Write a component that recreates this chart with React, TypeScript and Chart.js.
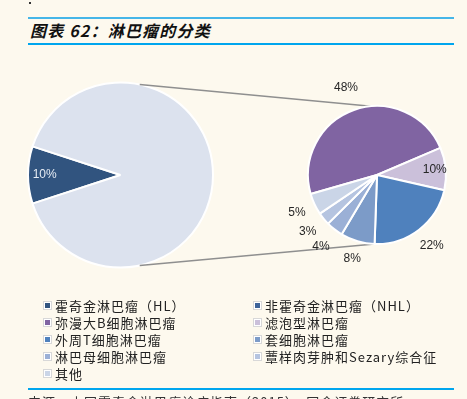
import React, { useEffect, useRef } from "react";
import { Chart, registerables } from "chart.js";

Chart.register(...registerables);

// ---- data ----
const overviewLabels = ["霍奇金淋巴瘤（HL）", "非霍奇金淋巴瘤（NHL）"];
const overviewValues = [10, 90];
const overviewColors = ["#31547f", "#dce2ee"];
const overviewShowLabel = [true, false];

const nhlLabels = [
  "弥漫大B细胞淋巴瘤",
  "滤泡型淋巴瘤",
  "外周T细胞淋巴瘤",
  "套细胞淋巴瘤",
  "淋巴母细胞淋巴瘤",
  "蕈样肉芽肿和Sezary综合征",
  "其他",
];
const nhlValues = [48, 10, 22, 8, 4, 3, 5];
const nhlColors = ["#8064a2", "#cbc0da", "#4f81bd", "#7c9bc8", "#9bb0d6", "#b5c4e0", "#cad5e7"];
const nhlLabelRadius = [1.34, 0.84, 1.3, 1.27, 1.32, 1.3, 1.28];

const legendLabels = [...overviewLabels, ...nhlLabels];
const legendColors = ["#31547f", "#3d6399", ...nhlColors];

const titleText = "图表 62：淋巴瘤的分类";
const sourceText = "来源：中国霍奇金淋巴瘤诊疗指南（2015），国金证券研究所";

const W = 467;
const CH = 300;

function makeLabelPlugin(factors: number[], show: boolean[], color: string) {
  return {
    id: "pctLabels",
    afterDatasetsDraw(chart: any) {
      const ctx = chart.ctx;
      const meta = chart.getDatasetMeta(0);
      const values = chart.data.datasets[0].data as number[];
      const total = values.reduce((a, b) => a + b, 0);
      ctx.save();
      ctx.font = '12px "Liberation Sans", Arial, sans-serif';
      ctx.fillStyle = color;
      ctx.textAlign = "center";
      ctx.textBaseline = "middle";
      meta.data.forEach((arc: any, i: number) => {
        if (!show[i]) return;
        const p = arc.getProps(["x", "y", "startAngle", "endAngle", "outerRadius"], true);
        const mid = (p.startAngle + p.endAngle) / 2;
        const r = p.outerRadius * factors[i];
        const pct = Math.round((values[i] / total) * 100) + "%";
        ctx.fillText(pct, p.x + Math.cos(mid) * r, p.y + Math.sin(mid) * r);
      });
      ctx.restore();
    },
  };
}

export default function App() {
  const leftRef = useRef<HTMLCanvasElement>(null);
  const rightRef = useRef<HTMLCanvasElement>(null);

  useEffect(() => {
    const left = new Chart(leftRef.current!, {
      type: "pie",
      data: {
        labels: overviewLabels,
        datasets: [
          {
            data: overviewValues,
            backgroundColor: overviewColors,
            borderColor: "#ffffff",
            borderWidth: 2,
          },
        ],
      },
      options: {
        responsive: false,
        animation: false,
        devicePixelRatio: 1,
        rotation: 252,
        layout: { padding: { left: 27, right: 253, top: 81, bottom: 31 } },
        plugins: { legend: { display: false }, tooltip: { enabled: false } },
      },
      plugins: [makeLabelPlugin([0.82, 1], overviewShowLabel, "#e6ecf4")],
    });

    const connector = {
      id: "connector",
      beforeDatasetsDraw(chart: any) {
        const la = left.getDatasetMeta(0).data[0] as any;
        const ra = chart.getDatasetMeta(0).data[0] as any;
        if (!la || !ra) return;
        const lp = la.getProps(["x", "y", "outerRadius"], true);
        const rp = ra.getProps(["x", "y", "outerRadius"], true);
        const ctx = chart.ctx;
        const la1 = ((-78) * Math.PI) / 180;
        const la2 = ((78) * Math.PI) / 180;
        const ra1 = ((-95) * Math.PI) / 180;
        const ra2 = ((92) * Math.PI) / 180;
        ctx.save();
        ctx.lineWidth = 1.4;
        ctx.strokeStyle = "#8f8f8f";
        ctx.beginPath();
        ctx.moveTo(lp.x + Math.cos(la1) * lp.outerRadius, lp.y + Math.sin(la1) * lp.outerRadius);
        ctx.lineTo(rp.x + Math.cos(ra1) * rp.outerRadius, rp.y + Math.sin(ra1) * rp.outerRadius);
        ctx.moveTo(lp.x + Math.cos(la2) * lp.outerRadius, lp.y + Math.sin(la2) * lp.outerRadius);
        ctx.lineTo(rp.x + Math.cos(ra2) * rp.outerRadius, rp.y + Math.sin(ra2) * rp.outerRadius);
        ctx.stroke();
        ctx.restore();
      },
    };

    const right = new Chart(rightRef.current!, {
      type: "pie",
      data: {
        labels: nhlLabels,
        datasets: [
          {
            data: nhlValues,
            backgroundColor: nhlColors,
            borderColor: "#ffffff",
            borderWidth: 2,
          },
        ],
      },
      options: {
        responsive: false,
        animation: false,
        devicePixelRatio: 1,
        rotation: 254,
        layout: { padding: { left: 307, right: 20, top: 105, bottom: 55 } },
        plugins: { legend: { display: false }, tooltip: { enabled: false } },
      },
      plugins: [connector, makeLabelPlugin(nhlLabelRadius, nhlValues.map(() => true), "#262626")],
    });

    return () => {
      right.destroy();
      left.destroy();
    };
  }, []);

  const rows: number[] = [];
  for (let i = 0; i < legendLabels.length; i += 2) rows.push(i);

  return (
    <div
      style={{
        position: "fixed",
        left: 0,
        top: 0,
        width: W,
        height: 399,
        background: "#fdf9ee",
        overflow: "hidden",
        fontFamily: '"Noto Sans CJK SC", sans-serif',
      }}
    >
      <div style={{ position: "absolute", left: 29, top: 2, width: 2, height: 2, background: "#333" }} />
      <div
        style={{
          position: "absolute",
          left: 28,
          top: 17,
          width: 426,
          height: 24,
          borderTop: "2px solid #45b6e8",
          borderBottom: "2px solid #00a6ee",
        }}
      >
        <div
          style={{
            position: "absolute",
            left: 2,
            top: 0,
            lineHeight: "22px",
            fontSize: 16,
            fontWeight: 700,
            fontStyle: "italic",
            letterSpacing: 1.2,
            color: "#111",
            whiteSpace: "nowrap",
          }}
        >
          {titleText}
        </div>
      </div>
      <canvas ref={leftRef} width={W} height={CH} style={{ position: "absolute", left: 0, top: 0, width: W, height: CH }} />
      <canvas ref={rightRef} width={W} height={CH} style={{ position: "absolute", left: 0, top: 0, width: W, height: CH }} />
      <div style={{ position: "absolute", left: 0, top: 297, width: W }}>
        {rows.map((ri, r) => (
          <div key={r} style={{ position: "relative", height: 17 }}>
            {[ri, ri + 1].map((idx, c) =>
              idx < legendLabels.length ? (
                <div
                  key={c}
                  style={{
                    position: "absolute",
                    left: c === 0 ? 44 : 254,
                    top: 0,
                    height: 17,
                    display: "flex",
                    alignItems: "center",
                    whiteSpace: "nowrap",
                  }}
                >
                  <span
                    style={{
                      display: "inline-block",
                      width: 5,
                      height: 5,
                      background: legendColors[idx],
                      border: "1px solid #ffffff",
                      outline: "1px solid #d8d8d8",
                      marginRight: 4,
                    }}
                  />
                  <span style={{ fontSize: 13, letterSpacing: 1, color: "#222", lineHeight: "17px" }}>
                    {legendLabels[idx]}
                  </span>
                </div>
              ) : null
            )}
          </div>
        ))}
      </div>
      <div style={{ position: "absolute", left: 28, top: 388, width: 426, height: 0, borderTop: "2px solid #00a6ee" }} />
      <div
        style={{
          position: "absolute",
          left: 28,
          top: 394,
          fontSize: 13,
          lineHeight: "16px",
          letterSpacing: 1,
          color: "#333",
          whiteSpace: "nowrap",
        }}
      >
        {sourceText}
      </div>
    </div>
  );
}
